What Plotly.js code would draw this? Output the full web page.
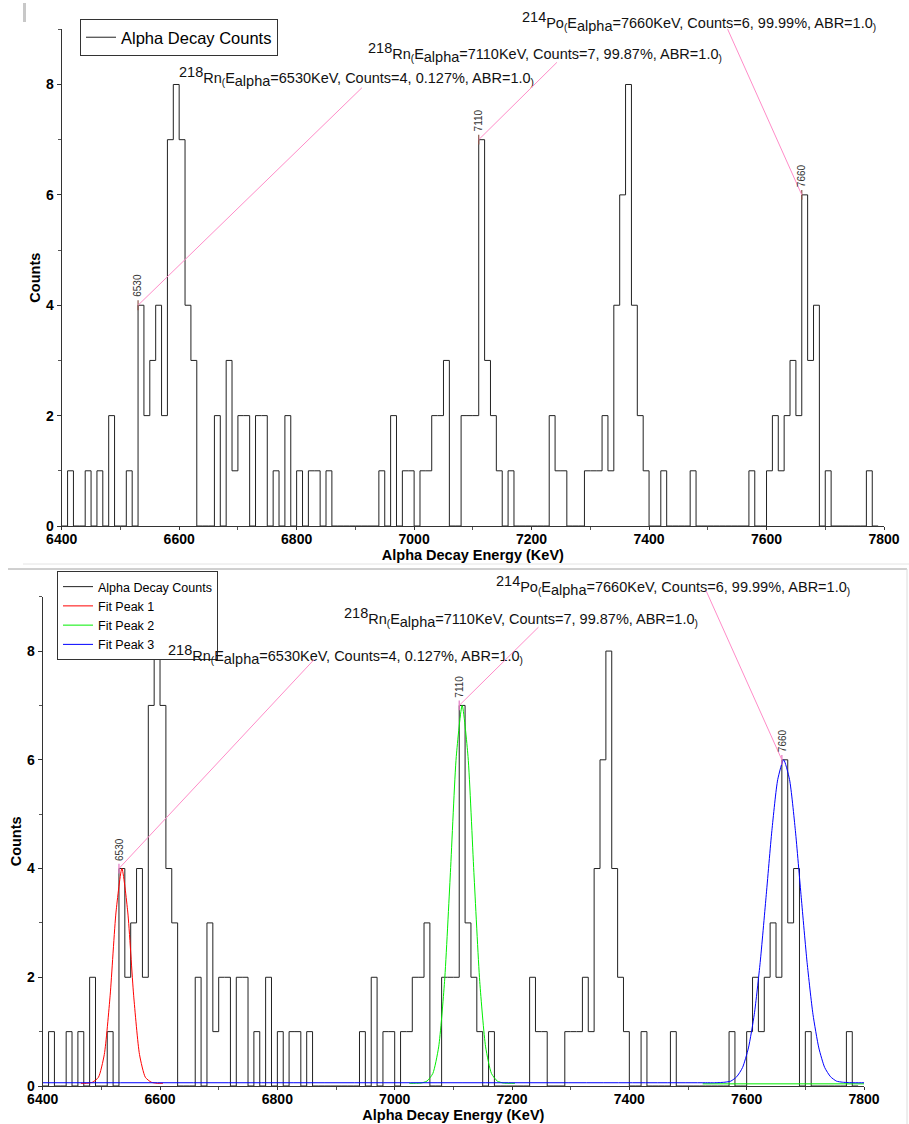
<!DOCTYPE html>
<html>
<head>
<meta charset="utf-8">
<script src="https://cdn.plot.ly/plotly-3.0.1.min.js"></script>
<style>
  html, body { margin: 0; padding: 0; background: #ffffff; }
  #chart { width: 909px; height: 1124px; }
</style>
</head>
<body>
<div id="chart"></div>
<script>
// ---------------- DATA ----------------
// Histogram: counts per 10 KeV bin, first bin starts at 6400 KeV
const binStart = 6400;
const binWidth = 10;
const counts = [
  0,1,0,0,1,0,1,0,2,0,   // 6400-6490
  0,1,0,4,2,3,4,2,7,8,   // 6500-6590
  7,4,3,0,0,0,2,0,3,1,   // 6600-6690
  2,2,0,2,2,0,1,0,2,0,   // 6700-6790
  1,0,1,1,0,1,0,0,0,0,   // 6800-6890
  0,0,0,0,1,0,2,0,1,1,   // 6900-6990
  0,1,1,2,2,3,0,0,2,2,   // 7000-7090
  2,7,3,2,1,0,1,0,0,0,   // 7100-7190
  0,0,0,2,1,1,0,0,0,1,   // 7200-7290
  1,1,2,1,4,6,8,4,2,1,   // 7300-7390
  0,0,1,0,0,0,0,1,0,0,   // 7400-7490
  0,0,0,0,0,0,0,1,0,0,   // 7500-7590
  1,2,1,2,3,2,6,3,4,0,   // 7600-7690
  1,0,0,0,0,0,0,1,0,0    // 7700-7790
];

// Fit curves
const fit1X = [6465,6475,6485,6495,6505,6515,6525,6535,6545,6555,6565,6575,6585,6595,6605];
const fit1Y = [0.05,0.05,0.07,0.16,0.58,1.67,3.2,4.0,3.2,1.67,0.58,0.16,0.07,0.05,0.05];

const fit2X = [7025,7035,7045,7055,7065,7075,7085,7095,7105,7115,7125,7135,7145,7155,7165,7175,7185,7195,7205,
               null,7525,7800];
const fit2Y = [0.05,0.05,0.055,0.09,0.23,0.72,1.92,3.93,6.06,7.0,6.06,3.93,1.92,0.72,0.23,0.09,0.055,0.05,0.05,
               null,0.04,0.04];

const fit3X = [6400,7533,7543,7553,7563,7573,7583,7593,7603,7613,7623,7633,7643,7653,7663,
               7673,7683,7693,7703,7713,7723,7733,7743,7753,7763,7773,7783,7793,7800];
const fit3Y = [0.06,0.06,0.06,0.063,0.07,0.09,0.17,0.34,0.70,1.32,2.27,3.47,4.70,5.64,6.0,
               5.64,4.70,3.47,2.27,1.32,0.70,0.34,0.17,0.09,0.07,0.063,0.06,0.06,0.06];

// Peak annotations
const peakEnergy = [6530, 7110, 7660];
const peakCounts = [4, 7, 6];
const peakLabels = [
  '<sup><span style="font-size:14.5px">218</span></sup>Rn<sub>(</sub>E<sub><span style="font-size:14.5px">alpha</span></sub>=6530KeV, Counts=4, 0.127%, ABR=1.0<sub>)</sub>',
  '<sup><span style="font-size:14.5px">218</span></sup>Rn<sub>(</sub>E<sub><span style="font-size:14.5px">alpha</span></sub>=7110KeV, Counts=7, 99.87%, ABR=1.0<sub>)</sub>',
  '<sup><span style="font-size:14.5px">214</span></sup>Po<sub>(</sub>E<sub><span style="font-size:14.5px">alpha</span></sub>=7660KeV, Counts=6, 99.99%, ABR=1.0<sub>)</sub>'
];

const xTitle = 'Alpha Decay Energy (KeV)';
const yTitle = 'Counts';
const seriesNames = ['Alpha Decay Counts', 'Fit Peak 1', 'Fit Peak 2', 'Fit Peak 3'];
const fitColors = ['#ff0000', '#00ee00', '#0000ff'];

// ---------------- LAYOUT HELPERS ----------------
const W = 909, H = 1124;
const px = v => v / W;
const py = v => 1 - v / H;
const FONT = 'Liberation Sans, Arial, sans-serif';
const PINK = '#ff8cc8';

// label positions (pixel: left x, centre y) and leader tails (data units)
const labelPos = {
  top:    [[177, 76], [366, 53], [520, 21.5]],
  bottom: [[166, 654], [342, 617], [494, 585]]
};
const tailPos = {
  top:    [[6912, 7.95], [7244, 8.41], [7533, 9.02]],
  bottom: [[6864, 7.86], [7246, 8.45], [7530, 9.13]]
};

// ---------------- TRACES ----------------
const histTop = {
  type: 'scatter', mode: 'lines', name: seriesNames[0],
  x0: binStart, dx: binWidth, y: counts,
  line: { shape: 'hv', color: '#222222', width: 1 },
  xaxis: 'x', yaxis: 'y', legend: 'legend'
};
const histBot = Object.assign({}, histTop, { xaxis: 'x2', yaxis: 'y2', legend: 'legend2' });

const fit1 = { type: 'scatter', mode: 'lines', name: seriesNames[1], x: fit1X, y: fit1Y,
  line: { color: fitColors[0], width: 1, shape: 'spline', smoothing: 0.6 }, xaxis: 'x2', yaxis: 'y2', legend: 'legend2' };
const fit2 = { type: 'scatter', mode: 'lines', name: seriesNames[2], x: fit2X, y: fit2Y, connectgaps: false,
  line: { color: fitColors[1], width: 1, shape: 'spline', smoothing: 0.6 }, xaxis: 'x2', yaxis: 'y2', legend: 'legend2' };
const fit3 = { type: 'scatter', mode: 'lines', name: seriesNames[3], x: fit3X, y: fit3Y,
  line: { color: fitColors[2], width: 1, shape: 'spline', smoothing: 0.6 }, xaxis: 'x2', yaxis: 'y2', legend: 'legend2' };

const markTop = { type: 'scatter', mode: 'markers', x: peakEnergy, y: peakCounts, showlegend: false, hoverinfo: 'skip',
  marker: { symbol: 'line-ns-open', size: 7, line: { color: '#ff2020', width: 1.2 } }, xaxis: 'x', yaxis: 'y' };
const markBot = Object.assign({}, markTop, { xaxis: 'x2', yaxis: 'y2' });

// ---------------- AXES ----------------
function xAxis(domain, anchor) {
  return {
    domain: domain, anchor: anchor, range: [6400, 7800], autorange: false,
    showline: true, linecolor: '#333', linewidth: 1, mirror: false,
    ticks: 'outside', ticklen: 3, tickcolor: '#333', tick0: 6400, dtick: 200,
    ticklabelstandoff: -3,
    minor: { dtick: 100, ticks: 'outside', ticklen: 2.5, tickcolor: '#555', showgrid: false },
    showgrid: false, zeroline: false, automargin: false,
    tickfont: { family: FONT, size: 14, color: '#000', weight: 'bold' },
    title: { text: xTitle, font: { family: FONT, size: 14.5, color: '#000', weight: 'bold' }, standoff: 0 }
  };
}
function yAxis(domain, anchor) {
  return {
    domain: domain, anchor: anchor, range: [0, 9], autorange: false,
    showline: true, linecolor: '#333', linewidth: 1,
    ticks: 'outside', ticklen: 4, tickcolor: '#333', tick0: 0, dtick: 2,
    minor: { dtick: 1, ticks: 'outside', ticklen: 2.5, tickcolor: '#555', showgrid: false },
    showgrid: false, zeroline: false, automargin: false,
    tickfont: { family: FONT, size: 14, color: '#000', weight: 'bold' },
    title: { text: yTitle, font: { family: FONT, size: 14.5, color: '#000', weight: 'bold' }, standoff: 2 }
  };
}

// ---------------- ANNOTATIONS ----------------
const annotations = [];
[['top', 'x', 'y'], ['bottom', 'x2', 'y2']].forEach(([panel, xr, yr]) => {
  peakEnergy.forEach((e, i) => {
    // main label text
    annotations.push({
      xref: 'paper', yref: 'paper', x: px(labelPos[panel][i][0]), y: py(labelPos[panel][i][1]),
      xanchor: 'left', yanchor: 'middle', showarrow: false, text: peakLabels[i],
      font: { family: FONT, size: 14.5, color: '#111' }
    });
    // leader line
    annotations.push({
      xref: xr, yref: yr, x: e, y: peakCounts[i],
      axref: xr, ayref: yr, ax: tailPos[panel][i][0], ay: tailPos[panel][i][1],
      text: ' ', showarrow: true, arrowhead: 0, arrowwidth: 1, arrowcolor: PINK,
      standoff: 0, startstandoff: 0, font: { size: 1 }, borderpad: 0
    });
    // rotated peak value
    annotations.push({
      xref: xr, yref: yr, x: e, y: peakCounts[i], xanchor: 'center', yanchor: 'bottom',
      yshift: 6, showarrow: false, textangle: -90, text: String(e),
      font: { family: FONT, size: 10, color: '#333' }
    });
  });
});

// ---------------- SHAPES (page decorations) ----------------
const shapes = [
  { type: 'rect', xref: 'paper', yref: 'paper', x0: px(23), x1: px(26), y0: py(22), y1: py(3),
    fillcolor: '#c8c8c8', line: { width: 0 } },
  { type: 'line', xref: 'paper', yref: 'paper', x0: px(23), x1: px(909), y0: py(564), y1: py(564),
    line: { color: '#e4e4e4', width: 1 } },
  { type: 'line', xref: 'paper', yref: 'paper', x0: px(8), x1: px(907), y0: py(569), y1: py(569),
    line: { color: '#a0a0a0', width: 1 } },
  { type: 'line', xref: 'paper', yref: 'paper', x0: px(907), x1: px(907), y0: py(569), y1: 0,
    line: { color: '#dcdcdc', width: 1 } }
];

const layout = {
  width: W, height: H,
  margin: { l: 0, r: 0, t: 0, b: 0 },
  paper_bgcolor: '#ffffff', plot_bgcolor: 'rgba(0,0,0,0)',
  font: { family: FONT, color: '#000' },
  showlegend: true,
  xaxis: xAxis([61.7 / W, 884 / W], 'y'),
  yaxis: yAxis([1 - 526 / H, 1 - 29.3 / H], 'x'),
  xaxis2: xAxis([42.7 / W, 864 / W], 'y2'),
  yaxis2: yAxis([1 - 1086 / H, 1 - 596.7 / H], 'x2'),
  legend: {
    x: px(80), y: py(19), xanchor: 'left', yanchor: 'top',
    bgcolor: '#ffffff', bordercolor: '#333', borderwidth: 1,
    font: { family: FONT, size: 16.5, color: '#000' }, tracegroupgap: 0
  },
  legend2: {
    x: px(57), y: py(571), xanchor: 'left', yanchor: 'top',
    bgcolor: '#ffffff', bordercolor: '#333', borderwidth: 1,
    font: { family: FONT, size: 12.5, color: '#000' }, tracegroupgap: 0
  },
  annotations: annotations,
  shapes: shapes
};

Plotly.newPlot('chart', [histTop, histBot, fit1, fit2, fit3, markTop, markBot], layout,
  { displayModeBar: false, staticPlot: true });
</script>
</body>
</html>
